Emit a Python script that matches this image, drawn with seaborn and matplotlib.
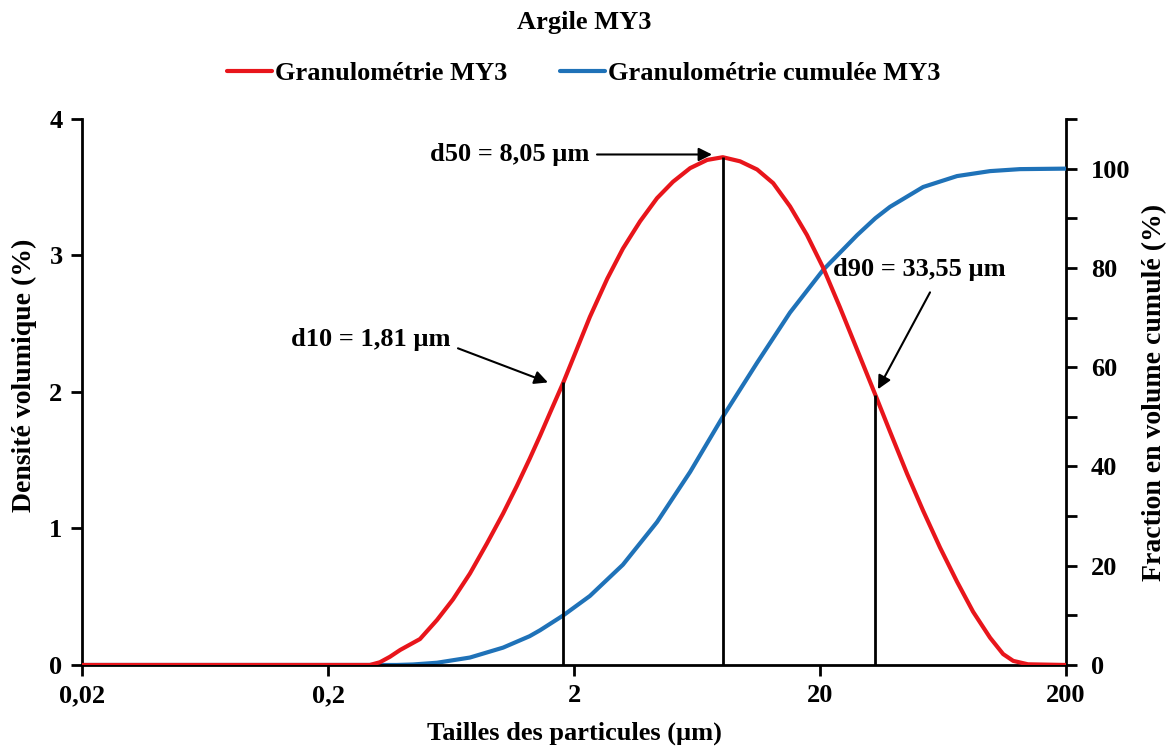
import numpy as np
import pandas as pd
import seaborn as sns
import matplotlib
matplotlib.use('Agg')
import matplotlib.pyplot as plt
from matplotlib.ticker import FixedLocator, NullLocator, MultipleLocator

# Particle sizes (um) and volume density (%)
taille_dens = [0.02, 0.1, 0.296, 0.325, 0.357, 0.393, 0.473, 0.555, 0.644, 0.755, 0.885,
               1.03, 1.17, 1.32, 1.456, 1.60, 1.81, 2.06, 2.32, 2.73, 3.16, 3.71, 4.35,
               5.05, 5.93, 6.95, 8.05, 9.46, 11.1, 12.9, 15.1, 17.7, 20.6, 24.1, 28.3,
               33.55, 38.5, 45.2, 52.5, 61.5, 72.1, 83.8, 98.2, 111, 122, 140, 200]
densite = [0, 0, 0, 0.02, 0.06, 0.11, 0.19, 0.33, 0.48, 0.67, 0.89,
           1.11, 1.31, 1.51, 1.68, 1.85, 2.07, 2.32, 2.55, 2.83, 3.05, 3.25, 3.42,
           3.54, 3.64, 3.70, 3.72, 3.69, 3.63, 3.53, 3.36, 3.15, 2.91, 2.62, 2.31,
           1.98, 1.71, 1.40, 1.13, 0.86, 0.61, 0.39, 0.20, 0.08, 0.03, 0.005, 0]

# Cumulative volume fraction (%)
taille_cum = [0.02, 0.1, 0.38, 0.443, 0.555, 0.755, 1.03, 1.32, 1.456, 1.81, 2.32, 3.16, 4.35,
              5.93, 8.05, 11.1, 15.1, 20.6, 28.3, 33.55, 38.5, 52.5, 72.1, 98.2, 130, 200]
cumul = [0, 0, 0, 0.1, 0.45, 1.5, 3.5, 5.8, 7.0, 10, 13.9, 20.2, 28.8,
         38.9, 50, 60.9, 71, 79.6, 86.6, 90, 92.3, 96.3, 98.5, 99.5, 99.9, 100]

# characteristic diameters
d_noms = ['d10 = 1,81 µm', 'd50 = 8,05 µm', 'd90 = 33,55 µm']
d_vals = [1.81, 8.05, 33.55]
d_haut = [2.07, 3.72, 1.98]

x_ticks = [0.02, 0.2, 2, 20, 200]
x_labels = ['0,02', '0,2', '2', '20', '200']

red = '#e8151b'
blue = '#1f72b8'

sns.set_theme(style='white')
plt.rcParams['font.family'] = ['Liberation Serif', 'DejaVu Serif']
plt.rcParams['font.weight'] = 'bold'
plt.rcParams['text.color'] = 'black'
plt.rcParams['axes.labelcolor'] = 'black'

fig = plt.figure(figsize=(11.68, 7.47), dpi=100)
ax = fig.add_axes([0.0702, 0.1098, 0.8425, 0.7309])
ax2 = ax.twinx()

df1 = pd.DataFrame({'taille': taille_dens, 'val': densite})
df2 = pd.DataFrame({'taille': taille_cum, 'val': cumul})

sns.lineplot(data=df2, x='taille', y='val', ax=ax2, color=blue, lw=3.0,
             label='Granulométrie cumulée MY3', legend=False, zorder=3)
sns.lineplot(data=df1, x='taille', y='val', ax=ax, color=red, lw=3.0,
             label='Granulométrie MY3', legend=False, zorder=3)

ax.set_zorder(ax2.get_zorder() + 1)
ax.patch.set_visible(False)

for d, h in zip(d_vals, d_haut):
    ax.vlines(d, 0, h, color='black', lw=2, zorder=4)

# labels and arrows
fs_ann = 19
ax.text(0.627, 2.34, d_noms[0], ha='right', va='baseline', fontsize=fs_ann, fontweight='bold')
ax.text(2.32, 3.69, d_noms[1], ha='right', va='baseline', fontsize=fs_ann, fontweight='bold')
ax.text(22.6, 2.85, d_noms[2], ha='left', va='baseline', fontsize=fs_ann, fontweight='bold')

arrow = dict(arrowstyle='-|>', color='black', lw=1.5, mutation_scale=20, shrinkA=0, shrinkB=0)
ax.annotate('', xy=(1.567, 2.07), xytext=(0.675, 2.32), arrowprops=arrow)
ax.annotate('', xy=(7.28, 3.74), xytext=(2.48, 3.74), arrowprops=arrow)
ax.annotate('', xy=(34.4, 2.02), xytext=(56, 2.73), arrowprops=arrow)

ax.set_xscale('log')
ax.set_xlim(0.02, 200)
ax.set_ylim(0, 4)
ax2.set_ylim(0, 110)
ax.xaxis.set_major_locator(FixedLocator(x_ticks))
ax.xaxis.set_minor_locator(NullLocator())
ax.set_xticklabels(x_labels)
ax.set_yticks([0, 1, 2, 3, 4])
ax2.set_yticks([0, 20, 40, 60, 80, 100])
ax2.yaxis.set_minor_locator(MultipleLocator(10))

for a in (ax, ax2):
    for s in a.spines.values():
        s.set_color('black')
        s.set_linewidth(2)
    a.spines['top'].set_visible(False)
    a.tick_params(which='both', direction='out', length=8, width=2, colors='black',
                  labelsize=19)
    a.grid(False)
ax2.spines['left'].set_visible(False)
ax2.spines['bottom'].set_visible(False)
ax.spines['right'].set_visible(False)
ax.tick_params(axis='y', left=True, pad=6)
ax.tick_params(axis='x', bottom=True, pad=6)
ax2.tick_params(axis='y', right=True, pad=10)

ax.set_xlabel('Tailles des particules (µm)', fontsize=19, fontweight='bold', labelpad=10)
ax.set_ylabel('Densité volumique (%)', fontsize=20, fontweight='bold', labelpad=8)
ax.yaxis.set_label_coords(-0.046, 0.53)
ax2.set_ylabel('Fraction en volume cumulé (%)', fontsize=20, fontweight='bold', labelpad=8)

fig.text(0.5, 0.9705, 'Argile MY3', ha='center', va='center', fontsize=19, fontweight='bold')
h1, l1 = ax.get_legend_handles_labels()
h2, l2 = ax2.get_legend_handles_labels()
fig.legend(h1 + h2, l1 + l2, loc='center', bbox_to_anchor=(0.5, 0.902), ncol=2,
           frameon=False, handlelength=1.7, handletextpad=0.12, columnspacing=2.0,
           prop={'weight': 'bold', 'size': 19})

fig.savefig('out.png', dpi=100, facecolor='white')
